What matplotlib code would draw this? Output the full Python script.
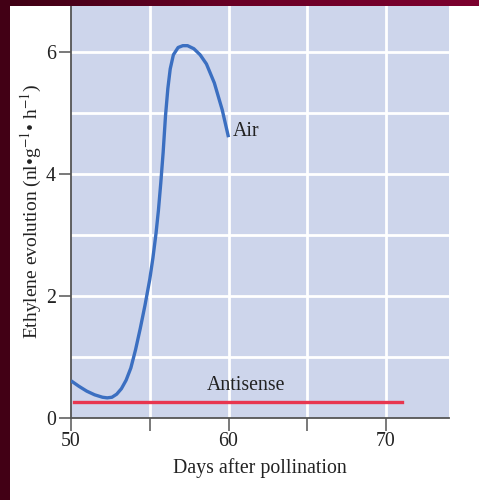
import numpy as np
import matplotlib
matplotlib.use("Agg")
import matplotlib.pyplot as plt
from matplotlib.colors import LinearSegmentedColormap

# ---- data ----
air_days = [50.0, 50.5, 51.0, 51.5, 52.0, 52.3, 52.6, 52.9, 53.2, 53.5, 53.8, 54.1,
            54.4, 54.7, 55.0, 55.2, 55.4, 55.55, 55.7, 55.85, 56.0, 56.15, 56.3,
            56.5, 56.8, 57.1, 57.4, 57.8, 58.2, 58.6, 59.1, 59.6, 60.0]
air_ethylene = [0.61, 0.52, 0.44, 0.38, 0.34, 0.33, 0.34, 0.39, 0.48, 0.62, 0.82, 1.12,
                1.47, 1.85, 2.27, 2.62, 3.03, 3.40, 3.85, 4.35, 4.95, 5.40, 5.72,
                5.95, 6.07, 6.10, 6.10, 6.05, 5.95, 5.80, 5.49, 5.05, 4.60]
antisense_days = [50.2, 71.0]
antisense_ethylene = [0.27, 0.27]
x_ticks = [50, 55, 60, 65, 70]
x_ticklabels = ["50", "", "60", "", "70"]
y_ticks = [0, 2, 4, 6]
y_ticklabels = ["0", "2", "4", "6"]

plt.rcParams['font.family'] = ['Liberation Serif', 'DejaVu Serif']
plt.rcParams['mathtext.fontset'] = 'stix'

FS = 14.3
fig = plt.figure(figsize=(4.79, 5.0), dpi=100)
fig.patch.set_facecolor('white')

W, H = 479, 500
ax = fig.add_axes([71 / W, (500 - 418) / H, (449 - 71) / W, (418 - 6) / H])
ax.set_facecolor('#cdd5eb')
ax.set_xlim(50, 74)
ax.set_ylim(0, 6.75)

# grid
for gx in [55, 60, 65, 70]:
    ax.axvline(gx, color='white', lw=2.0, zorder=1)
for gy in [1, 2, 3, 4, 5, 6]:
    ax.axhline(gy, color='white', lw=2.0, zorder=1)

ax.plot(air_days, air_ethylene, color='#3b6fc1', lw=2.4, solid_joinstyle='round',
        solid_capstyle='butt', zorder=3)
ax.plot(antisense_days, antisense_ethylene, color='#e8364f', lw=2.4, zorder=3)

ax.text(60.25, 4.69, "Air", fontsize=FS, color='#222222', va='center', ha='left')
ax.text(61.1, 0.53, "Antisense", fontsize=FS, color='#222222', va='center', ha='center')

for s in ['top', 'right']:
    ax.spines[s].set_visible(False)
for s in ['left', 'bottom']:
    ax.spines[s].set_color('#555555')
    ax.spines[s].set_linewidth(1.3)

ax.set_xticks(x_ticks)
ax.set_xticklabels(x_ticklabels)
ax.set_yticks(y_ticks)
ax.set_yticklabels(y_ticklabels)
ax.tick_params(axis='both', direction='out', length=9, width=1.1, color='#555555',
               labelsize=FS, labelcolor='#222222')
ax.tick_params(axis='y', pad=2)
ax.tick_params(axis='x', pad=1)

ax.set_xlabel("Days after pollination", fontsize=FS, color='#222222', labelpad=5)
ax.set_ylabel("Ethylene evolution (nl\u2022g$^{-1}$\u2022 h$^{-1}$)", fontsize=14,
              color='#222222', labelpad=1)

# decorative frame (dark red) on left and top
cmap = LinearSegmentedColormap.from_list('frame', ['#3e0014', '#6a0026', '#7c002e'])
top = fig.add_axes([0, (500 - 6) / H, 1, 6 / H])
top.imshow(np.linspace(0, 1, 256)[None, :], aspect='auto', cmap=cmap)
top.axis('off')
left = fig.add_axes([0, 0, 10 / W, 1])
left.imshow(np.full((2, 2), 0.05), aspect='auto', cmap=cmap, vmin=0, vmax=1)
left.axis('off')

fig.savefig('out.png', dpi=100)
